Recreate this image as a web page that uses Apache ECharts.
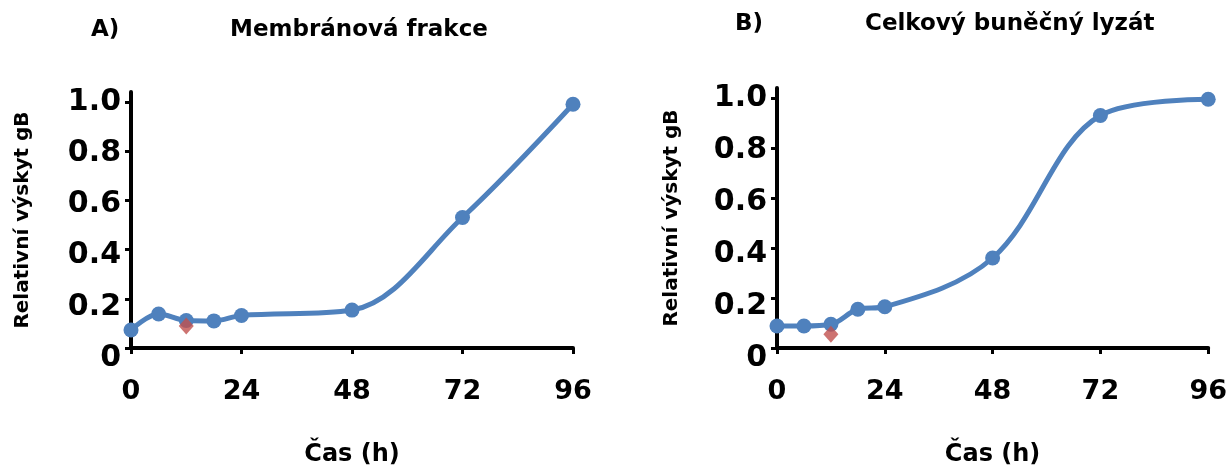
<!DOCTYPE html>
<html>
<head>
<meta charset="utf-8">
<script src="https://cdn.jsdelivr.net/npm/echarts@6/dist/echarts.min.js"></script>
<style>
html, body { margin: 0; padding: 0; background: #fff; }
#picture { width: 1230px; height: 472px; }
</style>
</head>
<body>
<div id="picture"></div>
<script>
// hodnoty
var hours = [0, 6, 12, 18, 24, 48, 72, 96];
var membraneValues = [0.073, 0.138, 0.112, 0.11, 0.132, 0.154, 0.53, 0.99];
var lysateValues = [0.088, 0.088, 0.095, 0.155, 0.165, 0.36, 0.93, 0.995];
var controlHour = [12];
var membraneControl = [0.089];
var lysateControl = [0.055];
var xTicks = [0, 24, 48, 72, 96];
var yTicks = [0, 0.2, 0.4, 0.6, 0.8, 1.0];

var fontName = 'DejaVu Sans';
var blue = '#4F81BD';
var red = '#C0504D';

function pairs(xs, ys) {
    var out = [];
    for (var i = 0; i < xs.length; i++) {
        out.push([xs[i], ys[i]]);
    }
    return out;
}

// popisky osy y jsou v originale mirne roztazene dolu
var yLabelRich = {};
for (var k = 0; k <= 5; k++) {
    yLabelRich['p' + k] = {
        fontFamily: fontName, fontWeight: 'bold', fontSize: 30, color: '#000',
        padding: [20 - 4 * k, 0, 0, 0]
    };
}

function xAxisFor(idx) {
    return {
        gridIndex: idx,
        type: 'value',
        min: 0,
        max: 96,
        interval: 24,
        name: 'Čas (h)',
        nameLocation: 'middle',
        nameGap: 95,
        nameTextStyle: { fontFamily: fontName, fontWeight: 'bold', fontSize: 24, color: '#000' },
        axisLine: { lineStyle: { color: '#000', width: 4 } },
        axisTick: { show: true, length: 6, lineStyle: { color: '#000', width: 3 }, customValues: xTicks },
        axisLabel: { fontFamily: fontName, fontWeight: 'bold', fontSize: 27, color: '#000', margin: 30, customValues: xTicks },
        splitLine: { show: false }
    };
}

function yAxisFor(idx, gap) {
    return {
        gridIndex: idx,
        type: 'value',
        min: 0,
        max: 1.04,
        name: 'Relativní výskyt gB',
        nameLocation: 'middle',
        nameGap: gap,
        nameTextStyle: { fontFamily: fontName, fontWeight: 'bold', fontSize: 20, color: '#000' },
        axisLine: { show: true, lineStyle: { color: '#000', width: 4 } },
        axisTick: { show: true, length: 6, lineStyle: { color: '#000', width: 3 }, customValues: yTicks },
        axisLabel: {
            fontFamily: fontName, fontWeight: 'bold', fontSize: 30, color: '#000', margin: 10,
            customValues: yTicks,
            rich: yLabelRich,
            formatter: function (v) {
                var k = Math.round(v * 5);
                return '{p' + k + '|' + (v === 0 ? '0' : v.toFixed(1)) + '}';
            }
        },
        splitLine: { show: false }
    };
}

function lineSeries(idx, ys) {
    return {
        type: 'line',
        xAxisIndex: idx,
        yAxisIndex: idx,
        data: pairs(hours, ys),
        smooth: 0.35,
        symbol: 'circle',
        symbolSize: 15,
        lineStyle: { color: blue, width: 5 },
        itemStyle: { color: blue },
        z: 2
    };
}

function controlSeries(idx, ys) {
    return {
        type: 'scatter',
        xAxisIndex: idx,
        yAxisIndex: idx,
        data: pairs(controlHour, ys),
        symbol: 'diamond',
        symbolSize: [15, 17],
        itemStyle: { color: red },
        z: 3
    };
}

var titleStyle = { fontFamily: fontName, fontWeight: 'bold', fontSize: 23, color: '#000' };

var myChart = echarts.init(document.getElementById('picture'));
var option = {
    backgroundColor: '#fff',
    animation: false,
    title: [
        { text: 'A)', left: 86, top: 14, textStyle: titleStyle },
        { text: 'Membránová frakce', left: 225, top: 14, textStyle: titleStyle },
        { text: 'B)', left: 730, top: 8, textStyle: titleStyle },
        { text: 'Celkový buněčný lyzát', left: 860, top: 8, textStyle: titleStyle }
    ],
    grid: [
        { left: 131, right: 657, top: 92, bottom: 109 },
        { left: 777, right: 19, top: 88, bottom: 110 }
    ],
    xAxis: [xAxisFor(0), xAxisFor(1)],
    yAxis: [yAxisFor(0, 98), yAxisFor(1, 95)],
    series: [
        lineSeries(0, membraneValues),
        controlSeries(0, membraneControl),
        lineSeries(1, lysateValues),
        controlSeries(1, lysateControl)
    ]
};
myChart.setOption(option);
</script>
</body>
</html>
